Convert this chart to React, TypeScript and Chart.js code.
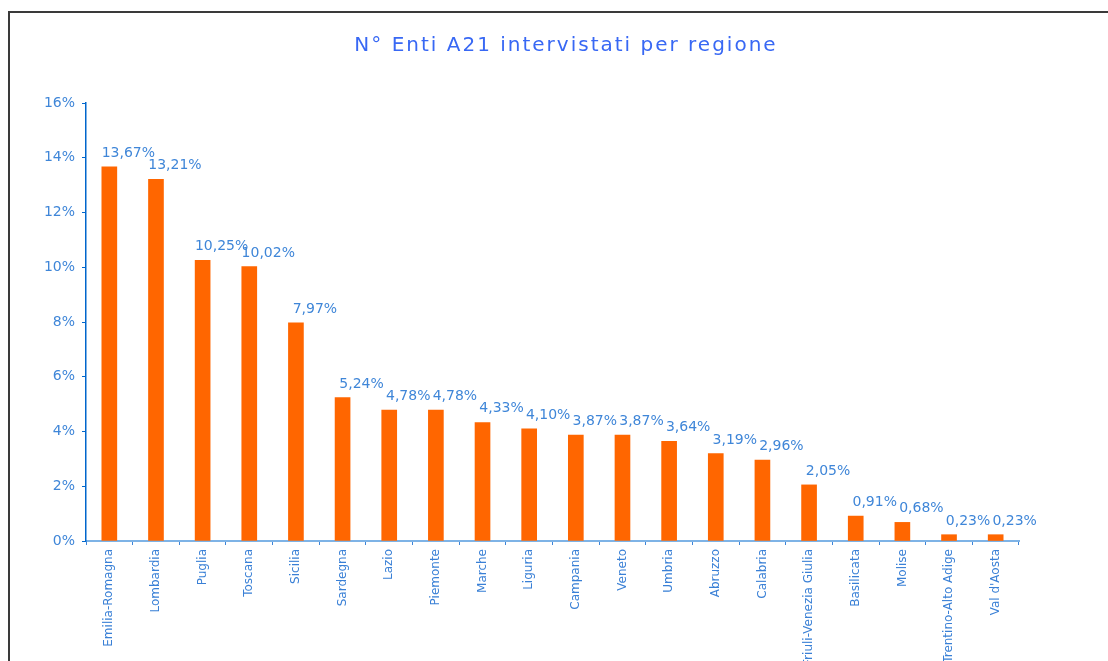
import React, { useEffect, useRef } from "react";
import { Chart, registerables } from "chart.js";

Chart.register(...registerables);

const TITLE = "N° Enti A21 intervistati per regione";

const regions: string[] = [
  "Emilia-Romagna",
  "Lombardia",
  "Puglia",
  "Toscana",
  "Sicilia",
  "Sardegna",
  "Lazio",
  "Piemonte",
  "Marche",
  "Liguria",
  "Campania",
  "Veneto",
  "Umbria",
  "Abruzzo",
  "Calabria",
  "Friuli-Venezia Giulia",
  "Basilicata",
  "Molise",
  "Trentino-Alto Adige",
  "Val d'Aosta",
];

const shares: number[] = [
  13.67, 13.21, 10.25, 10.02, 7.97, 5.24, 4.78, 4.78, 4.33, 4.1, 3.87, 3.87,
  3.64, 3.19, 2.96, 2.05, 0.91, 0.68, 0.23, 0.23,
];

const Y_MIN = 0;
const Y_MAX = 16;
const Y_STEP = 2;

const FONT = "'DejaVu Sans', Verdana, sans-serif";
const LABEL_BLUE = "#3f86d8";

const fmtPct = (v: number) => v.toFixed(2).replace(".", ",") + "%";

const titlePlugin = {
  id: "customTitle",
  afterDraw(chart: any) {
    const ctx = chart.ctx as CanvasRenderingContext2D;
    ctx.save();
    (ctx as any).letterSpacing = "2px";
    ctx.font = `20px ${FONT}`;
    ctx.fillStyle = "#3868f4";
    ctx.textAlign = "center";
    ctx.textBaseline = "alphabetic";
    ctx.fillText(TITLE, 566, 51);
    ctx.restore();
  },
};

const valueLabels = {
  id: "valueLabels",
  afterDatasetsDraw(chart: any) {
    const ctx = chart.ctx as CanvasRenderingContext2D;
    const meta = chart.getDatasetMeta(0);
    const data = chart.data.datasets[0].data as number[];
    ctx.save();
    ctx.font = `14px ${FONT}`;
    ctx.fillStyle = LABEL_BLUE;
    ctx.textAlign = "center";
    ctx.textBaseline = "alphabetic";
    meta.data.forEach((bar: any, i: number) => {
      ctx.fillText(fmtPct(data[i]), bar.x + 19, bar.y - 10);
    });
    ctx.restore();
  },
};

function BarChart() {
  const ref = useRef<HTMLCanvasElement | null>(null);

  useEffect(() => {
    if (!ref.current) return;
    const chart = new Chart(ref.current, {
      type: "bar",
      data: {
        labels: regions,
        datasets: [
          {
            data: shares,
            backgroundColor: "#ff6600",
            borderWidth: 0,
            barThickness: 15,
          },
        ],
      },
      options: {
        responsive: false,
        animation: false,
        layout: { padding: { top: 103, right: 89, left: 0, bottom: 0 } },
        plugins: {
          legend: { display: false },
          title: { display: false },
          tooltip: { enabled: false },
        },
        scales: {
          x: {
            afterFit: (s: any) => {
              s.height = 120;
            },
            grid: {
              display: true,
              drawOnChartArea: false,
              drawTicks: true,
              tickLength: 4,
              tickColor: "#3d85d8",
              offset: true,
            },
            border: { display: true, color: "#7eb3e6", width: 2 },
            ticks: {
              autoSkip: false,
              minRotation: 90,
              maxRotation: 90,
              padding: 4,
              color: "#3a80d6",
              font: { family: FONT, size: 12 },
            },
          },
          y: {
            min: Y_MIN,
            max: Y_MAX,
            afterFit: (s: any) => {
              s.width = 86;
            },
            grid: {
              display: true,
              drawOnChartArea: false,
              drawTicks: true,
              tickLength: 4,
              tickColor: "#0066cc",
            },
            border: { display: true, color: "#0066cc", width: 1.5 },
            ticks: {
              stepSize: Y_STEP,
              padding: 7,
              color: LABEL_BLUE,
              font: { family: FONT, size: 14 },
              callback: (v: any) => `${v}%`,
            },
          },
        },
      },
      plugins: [valueLabels, titlePlugin],
    });
    return () => chart.destroy();
  }, []);

  return <canvas ref={ref} width={1108} height={661} style={{ display: "block" }} />;
}

export default function App() {
  return (
    <div
      style={{
        position: "fixed",
        left: 0,
        top: 0,
        width: 1108,
        height: 661,
        overflow: "hidden",
        background: "#ffffff",
      }}
    >
      <div
        style={{
          position: "absolute",
          left: 8,
          top: 11,
          width: 1130,
          height: 700,
          border: "2px solid #3a3a3a",
          boxSizing: "border-box",
        }}
      />
      <div style={{ position: "absolute", left: 0, top: 0 }}>
        <BarChart />
      </div>
    </div>
  );
}
